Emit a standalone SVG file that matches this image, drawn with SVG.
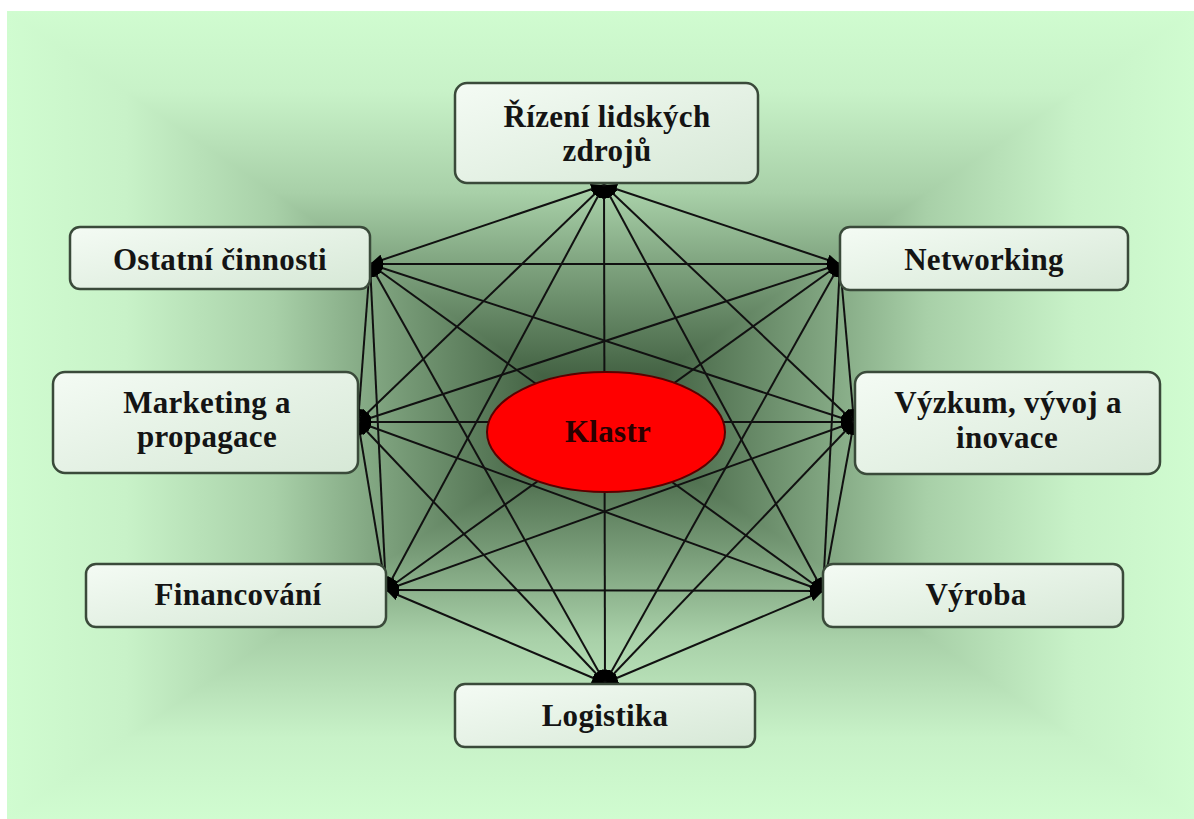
<svg xmlns="http://www.w3.org/2000/svg" width="1194" height="819" viewBox="0 0 1194 819">
<defs>
<style>
.box{fill:url(#boxg);stroke:#3a4a3a;stroke-width:2.5}
.t{font-family:"Liberation Serif","Times New Roman","DejaVu Serif",serif;font-weight:bold;font-size:31px;letter-spacing:0.3px;fill:#141414;text-anchor:middle}
.c{stroke:#111;stroke-width:2;fill:none;marker-start:url(#ah);marker-end:url(#ah)}
.bg{shape-rendering:crispEdges}
</style>
<linearGradient id="boxg" x1="0" y1="0" x2="1" y2="1">
<stop offset="0" stop-color="#f4fbf4"/>
<stop offset="1" stop-color="#d6e8d6"/>
</linearGradient>
<linearGradient id="gT" gradientUnits="userSpaceOnUse" x1="0" y1="11" x2="0" y2="415">
<stop offset="0" stop-color="#d0fcd0"/><stop offset="0.2" stop-color="#c8f2c8"/><stop offset="0.45" stop-color="#a8d0a8"/><stop offset="0.65" stop-color="#7a9e7a"/><stop offset="0.85" stop-color="#4f6f4f"/><stop offset="1" stop-color="#2e4a2e"/>
</linearGradient>
<linearGradient id="gB" gradientUnits="userSpaceOnUse" x1="0" y1="819" x2="0" y2="415">
<stop offset="0" stop-color="#d0fcd0"/><stop offset="0.2" stop-color="#c8f2c8"/><stop offset="0.45" stop-color="#a8d0a8"/><stop offset="0.65" stop-color="#7a9e7a"/><stop offset="0.85" stop-color="#4f6f4f"/><stop offset="1" stop-color="#2e4a2e"/>
</linearGradient>
<linearGradient id="gL" gradientUnits="userSpaceOnUse" x1="7" y1="0" x2="600" y2="0">
<stop offset="0" stop-color="#d0fcd0"/><stop offset="0.2" stop-color="#c8f2c8"/><stop offset="0.45" stop-color="#a8d0a8"/><stop offset="0.65" stop-color="#7a9e7a"/><stop offset="0.85" stop-color="#4f6f4f"/><stop offset="1" stop-color="#2e4a2e"/>
</linearGradient>
<linearGradient id="gR" gradientUnits="userSpaceOnUse" x1="1194" y1="0" x2="600" y2="0">
<stop offset="0" stop-color="#d0fcd0"/><stop offset="0.2" stop-color="#c8f2c8"/><stop offset="0.45" stop-color="#a8d0a8"/><stop offset="0.65" stop-color="#7a9e7a"/><stop offset="0.85" stop-color="#4f6f4f"/><stop offset="1" stop-color="#2e4a2e"/>
</linearGradient>
<marker id="ah" markerUnits="userSpaceOnUse" markerWidth="13" markerHeight="11" refX="13" refY="5.5" orient="auto-start-reverse">
<path d="M0,0 L13,5.5 L0,11 z" fill="#000"/>
</marker>
</defs>
<rect width="1194" height="819" fill="#fff"/>
<g id="background">
<rect class="bg" x="7" y="11" width="1187" height="808" fill="#d0fcd0"/>
<polygon class="bg" points="7,11 1194,11 600,415" fill="url(#gT)"/>
<polygon class="bg" points="7,819 1194,819 600,415" fill="url(#gB)"/>
<polygon class="bg" points="7,11 7,819 600,415" fill="url(#gL)"/>
<polygon class="bg" points="1194,11 1194,819 600,415" fill="url(#gR)"/>
</g>
<g id="connectors">
<line class="c" x1="604" y1="185" x2="370" y2="264"/>
<line class="c" x1="604" y1="185" x2="840" y2="264"/>
<line class="c" x1="604" y1="185" x2="358" y2="422"/>
<line class="c" x1="604" y1="185" x2="854" y2="422"/>
<line class="c" x1="604" y1="185" x2="386" y2="590"/>
<line class="c" x1="604" y1="185" x2="823" y2="591"/>
<line class="c" x1="604" y1="185" x2="605" y2="683"/>
<line class="c" x1="370" y1="264" x2="840" y2="264"/>
<line class="c" x1="370" y1="264" x2="358" y2="422"/>
<line class="c" x1="370" y1="264" x2="854" y2="422"/>
<line class="c" x1="370" y1="264" x2="386" y2="590"/>
<line class="c" x1="370" y1="264" x2="823" y2="591"/>
<line class="c" x1="370" y1="264" x2="605" y2="683"/>
<line class="c" x1="840" y1="264" x2="358" y2="422"/>
<line class="c" x1="840" y1="264" x2="854" y2="422"/>
<line class="c" x1="840" y1="264" x2="386" y2="590"/>
<line class="c" x1="840" y1="264" x2="823" y2="591"/>
<line class="c" x1="840" y1="264" x2="605" y2="683"/>
<line class="c" x1="358" y1="422" x2="854" y2="422"/>
<line class="c" x1="358" y1="422" x2="386" y2="590"/>
<line class="c" x1="358" y1="422" x2="823" y2="591"/>
<line class="c" x1="358" y1="422" x2="605" y2="683"/>
<line class="c" x1="854" y1="422" x2="386" y2="590"/>
<line class="c" x1="854" y1="422" x2="823" y2="591"/>
<line class="c" x1="854" y1="422" x2="605" y2="683"/>
<line class="c" x1="386" y1="590" x2="823" y2="591"/>
<line class="c" x1="386" y1="590" x2="605" y2="683"/>
<line class="c" x1="823" y1="591" x2="605" y2="683"/>
</g>
<g id="klastr">
<ellipse cx="606" cy="432" rx="119" ry="60" fill="#ff0000" stroke="#5a0000" stroke-width="2"/>
<text class="t" x="608" y="442" style="fill:#2a0000">Klastr</text>
</g>
<g id="rizeni">
<rect class="box" x="455" y="83" width="303" height="100" rx="12"/>
<text class="t" x="607" y="127">Řízení lidských</text>
<text class="t" x="607" y="161">zdrojů</text>
</g>
<g id="ostatni">
<rect class="box" x="70" y="227" width="300" height="62" rx="10"/>
<text class="t" x="220" y="270">Ostatní činnosti</text>
</g>
<g id="networking">
<rect class="box" x="840" y="227" width="288" height="63" rx="10"/>
<text class="t" x="984" y="270">Networking</text>
</g>
<g id="marketing">
<rect class="box" x="53" y="372" width="305" height="101" rx="12"/>
<text class="t" x="207" y="413">Marketing a</text>
<text class="t" x="207" y="447">propagace</text>
</g>
<g id="vyzkum">
<rect class="box" x="855" y="372" width="305" height="102" rx="12"/>
<text class="t" x="1008" y="413">Výzkum, vývoj a</text>
<text class="t" x="1007" y="448">inovace</text>
</g>
<g id="financovani">
<rect class="box" x="86" y="564" width="300" height="63" rx="10"/>
<text class="t" x="238" y="605">Financování</text>
</g>
<g id="vyroba">
<rect class="box" x="823" y="564" width="300" height="63" rx="10"/>
<text class="t" x="976" y="605">Výroba</text>
</g>
<g id="logistika">
<rect class="box" x="455" y="684" width="300" height="63" rx="10"/>
<text class="t" x="605" y="726">Logistika</text>
</g>
</svg>
